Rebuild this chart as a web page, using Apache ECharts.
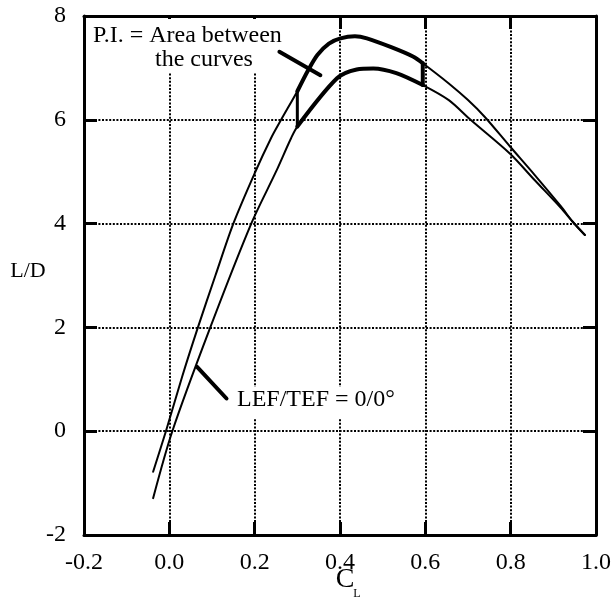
<!DOCTYPE html>
<html><head><meta charset="utf-8">
<script src="https://cdn.jsdelivr.net/npm/echarts@6/dist/echarts.min.js"></script>
<style>html,body{margin:0;padding:0;background:#fff}#c{width:614px;height:607px}</style>
</head><body><div id="c"></div>
<script>
// Axis ranges / ticks
const xMin = -0.2, xMax = 1.0, xStep = 0.2;
const yMin = -2, yMax = 8, yStep = 2;

// Upper curve (flaps scheduled)
const upperCL = [-0.038, -0.008, 0.030, 0.067, 0.108, 0.150, 0.200, 0.238, 0.262, 0.300, 0.325, 0.347, 0.374, 0.401, 0.435, 0.463, 0.520, 0.571, 0.594, 0.655, 0.700, 0.740, 0.798, 0.856, 0.918, 0.945, 0.974];
const upperLD = [-0.78, 0.00, 1.05, 2.00, 3.00, 4.00, 4.97, 5.64, 6.00, 6.55, 6.95, 7.25, 7.47, 7.57, 7.61, 7.57, 7.40, 7.22, 7.09, 6.70, 6.38, 6.05, 5.49, 4.94, 4.33, 4.04, 3.78];

// Baseline curve LEF/TEF = 0/0°
const baseCL = [-0.038, 0.007, 0.096, 0.192, 0.250, 0.285, 0.300, 0.393, 0.439, 0.478, 0.532, 0.594, 0.655, 0.706, 0.798, 0.856, 0.918, 0.945, 0.974];
const baseLD = [-1.29, 0.00, 2.00, 4.00, 5.00, 5.64, 5.87, 6.80, 6.97, 6.99, 6.90, 6.67, 6.38, 6.00, 5.35, 4.84, 4.30, 4.04, 3.78];

// Performance-index region bounds (C_L)
const regionFrom = 0.300, regionTo = 0.594;

// Leader lines (data coordinates)
const leaderPI_CL = [0.258, 0.354], leaderPI_LD = [7.31, 6.86];
const leaderLEF_CL = [0.065, 0.134], leaderLEF_LD = [1.24, 0.63];

// Texts
const piLine1 = 'P.I. = Area between', piLine2 = 'the curves';
const lefText = 'LEF/TEF = 0/0°';
const yTitle = 'L/D', xTitleMain = 'C', xTitleSub = 'L';

const zip = (a, b) => a.map((v, i) => [v, b[i]]);
const upper = zip(upperCL, upperLD);
const base = zip(baseCL, baseLD);
const inR = p => p[0] >= regionFrom - 1e-9 && p[0] <= regionTo + 1e-9;
const regionUpper = upper.filter(inR);
const regionBase = base.filter(inR);
const vLeft = [regionUpper[0], regionBase[0]];
const vRight = [regionUpper[regionUpper.length - 1], regionBase[regionBase.length - 1]];

const FONT = "'Liberation Serif', 'Times New Roman', serif";
const black = '#000';
const grid = {color: black, width: 2, type: [2, 1.6]};

function xAxis(pos, labels) {
  return {
    type: 'value', min: xMin, max: xMax, interval: xStep, position: pos,
    axisLine: {show: true, onZero: false, lineStyle: {color: black, width: 3}},
    axisTick: {show: true, inside: true, length: 13, lineStyle: {color: black, width: 3}},
    axisLabel: {show: labels, color: black, fontFamily: FONT, fontSize: 24, margin: 16,
      formatter: v => (Math.abs(v) < 1e-9 ? 0 : v).toFixed(1)},
    splitLine: {show: labels, lineStyle: grid}
  };
}
function yAxis(pos, labels) {
  return {
    type: 'value', min: yMin, max: yMax, interval: yStep, position: pos,
    axisLine: {show: true, onZero: false, lineStyle: {color: black, width: 3}},
    axisTick: {show: true, inside: true, length: 13, lineStyle: {color: black, width: 3}},
    axisLabel: {show: labels, color: black, fontFamily: FONT, fontSize: 24, margin: 18},
    splitLine: {show: labels, lineStyle: grid}
  };
}
const line = (data, w, smooth) => ({type: 'line', data, symbol: 'none',
  smooth: smooth ? 0.3 : false,
  lineStyle: {color: black, width: w, cap: 'round', join: 'round'}, itemStyle: {color: black}, z: 3});

const chart = echarts.init(document.getElementById('c'), null, {renderer: 'canvas'});
chart.setOption({
  animation: false,
  backgroundColor: '#fff',
  grid: {left: 84, right: 12, top: 16, bottom: 72, containLabel: false},
  xAxis: [xAxis('bottom', true), xAxis('top', false)],
  yAxis: [yAxis('left', true), yAxis('right', false)],
  series: [
    line(upper, 2, true),
    line(base, 2, true),
    line(regionUpper, 4, true),
    line(regionBase, 4, true),
    line(vLeft, 3, false),
    line(vRight, 4, false),
    line(zip(leaderPI_CL, leaderPI_LD), 4, false),
    line(zip(leaderLEF_CL, leaderLEF_LD), 4, false)
  ],
  graphic: [
    {type: 'rect', shape: {x: 89, y: 19, width: 200, height: 54}, style: {fill: '#fff'}, z: 1},
    {type: 'rect', shape: {x: 234, y: 387, width: 166, height: 31}, style: {fill: '#fff'}, z: 1},
    {type: 'text', x: 93, y: 36, z: 5, style: {text: piLine1, fill: black, font: '24px ' + FONT, textAlign: 'left', textVerticalAlign: 'middle'}},
    {type: 'text', x: 155, y: 60, z: 5, style: {text: piLine2, fill: black, font: '24px ' + FONT, textAlign: 'left', textVerticalAlign: 'middle'}},
    {type: 'text', x: 237, y: 400, z: 5, style: {text: lefText, fill: black, font: '24px ' + FONT, textAlign: 'left', textVerticalAlign: 'middle'}},
    {type: 'text', x: 28, y: 271, z: 5, style: {text: yTitle, fill: black, font: '22px ' + FONT, textAlign: 'center', textVerticalAlign: 'middle'}},
    {type: 'text', x: 345, y: 580, z: 5, style: {text: xTitleMain, fill: black, font: '28px ' + FONT, textAlign: 'center', textVerticalAlign: 'middle'}},
    {type: 'text', x: 357, y: 594, z: 5, style: {text: xTitleSub, fill: black, font: '12px ' + FONT, textAlign: 'center', textVerticalAlign: 'middle'}}
  ]
});
</script></body></html>
